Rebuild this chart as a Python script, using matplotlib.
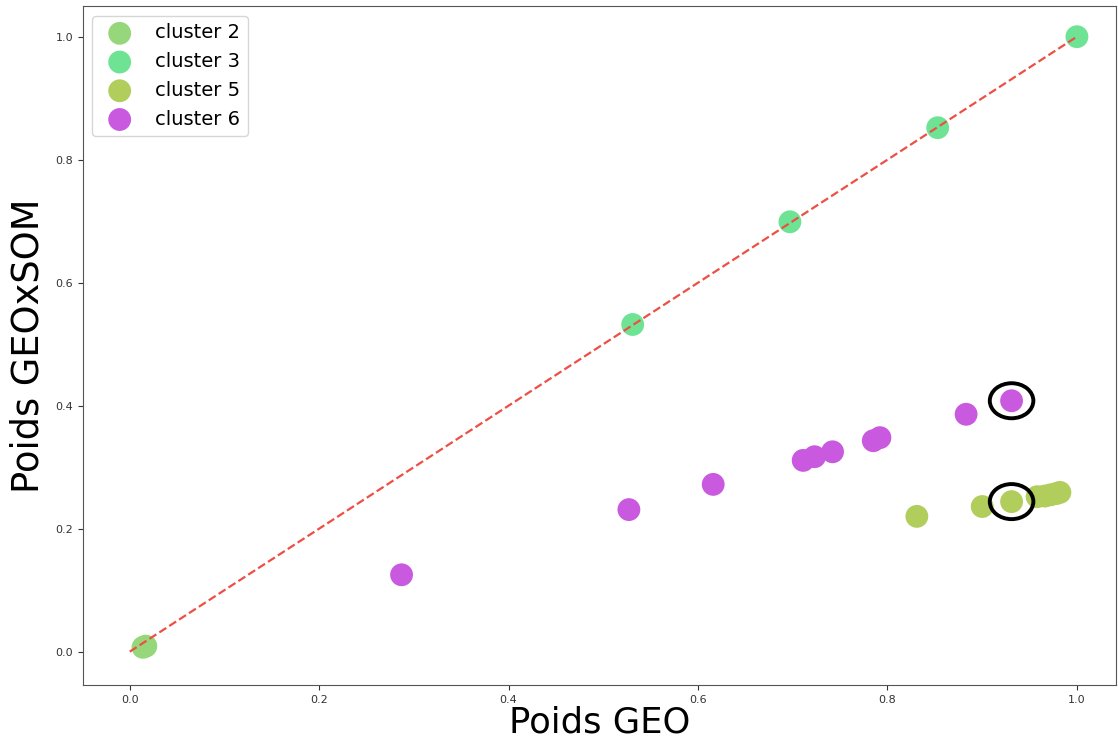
import numpy as np
import matplotlib.pyplot as plt
from matplotlib.patches import Ellipse

# Données
c2_x = [0.014, 0.017]
c2_y = [0.007, 0.009]
c3_x = [0.531, 0.697, 0.853, 1.0]
c3_y = [0.532, 0.699, 0.852, 1.0]
c5_x = [0.831, 0.900, 0.931, 0.958, 0.966, 0.972, 0.978, 0.982]
c5_y = [0.220, 0.236, 0.244, 0.252, 0.253, 0.255, 0.257, 0.259]
c6_x = [0.287, 0.527, 0.616, 0.711, 0.723, 0.742, 0.785, 0.792, 0.883, 0.931]
c6_y = [0.125, 0.231, 0.272, 0.311, 0.317, 0.325, 0.343, 0.348, 0.386, 0.408]

# points entourés
circ_x = [0.931, 0.931]
circ_y = [0.408, 0.244]

fig, ax = plt.subplots(figsize=(11.18, 7.42), dpi=100)
fig.subplots_adjust(left=0.074, right=0.998, top=0.992, bottom=0.077)

ax.scatter(c2_x, c2_y, s=270, color='#97d77c', edgecolor='none', label='cluster 2', zorder=3)
ax.scatter(c3_x, c3_y, s=270, color='#6fe394', edgecolor='none', label='cluster 3', zorder=3)
ax.scatter(c5_x, c5_y, s=270, color='#b1cd5b', edgecolor='none', label='cluster 5', zorder=3)
ax.scatter(c6_x, c6_y, s=270, color='#c959df', edgecolor='none', label='cluster 6', zorder=3)

ax.plot([0, 1], [0, 1], '--', color='#ee4f45', linewidth=1.6, zorder=4)

for x, y in zip(circ_x, circ_y):
    ax.add_patch(Ellipse((x, y), 0.046, 0.057, fill=False, edgecolor='black', linewidth=2.8, zorder=5))

ax.set_xlim(-0.0496, 1.041)
ax.set_ylim(-0.054, 1.050)
for s in ax.spines.values():
    s.set_color('#555555')
ax.tick_params(labelsize=8, colors='#333333')
ax.set_xlabel('Poids GEO', fontsize=25.5, labelpad=1)
ax.set_ylabel('Poids GEOxSOM', fontsize=26.5, labelpad=6)
ax.legend(loc='upper left', fontsize=14, handletextpad=0.8, borderaxespad=0.5)

plt.savefig('out.png')
